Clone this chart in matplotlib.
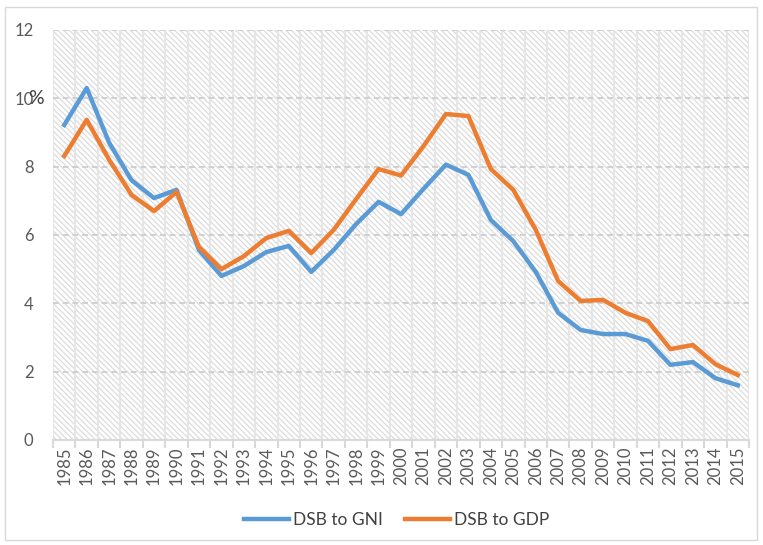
import numpy as np
import matplotlib.pyplot as plt
from matplotlib.patches import Rectangle

plt.rcParams['font.family'] = ['Lato', 'DejaVu Sans']
plt.rcParams['hatch.color'] = '#dcdcdc'
plt.rcParams['hatch.linewidth'] = 0.9

# data
years = [str(y) for y in range(1985, 2016)]
dsb_gni = [9.22, 10.3, 8.7, 7.6, 7.08, 7.32, 5.56, 4.8, 5.09, 5.5,
           5.68, 4.92, 5.56, 6.32, 6.97, 6.61, 7.35, 8.06, 7.76, 6.44,
           5.82, 4.92, 3.72, 3.22, 3.1, 3.1, 2.9, 2.2, 2.28, 1.81, 1.6]
dsb_gdp = [8.31, 9.37, 8.2, 7.17, 6.7, 7.26, 5.65, 5.0, 5.38, 5.91,
           6.12, 5.47, 6.15, 7.05, 7.93, 7.74, 8.6, 9.54, 9.48, 7.93,
           7.32, 6.15, 4.65, 4.07, 4.1, 3.72, 3.48, 2.66, 2.78, 2.22, 1.9]
yticks = [0, 2, 4, 6, 8, 10, 12]

fig = plt.figure(figsize=(7.63, 5.45), dpi=100)
ax = fig.add_axes([0.0695, 0.1927, 0.9122, 0.7523])

# hatched background
ax.patch.set_facecolor('white')
ax.patch.set_hatch('\\\\\\\\\\\\')
ax.patch.set_edgecolor('#dcdcdc')
ax.patch.set_linewidth(0)

x = np.arange(len(years))
ax.plot(x, dsb_gni, color='#5B9BD5', lw=3.2, label='DSB to GNI', zorder=3)
ax.plot(x, dsb_gdp, color='#ED7D31', lw=3.2, label='DSB to GDP', zorder=3)

ax.set_xlim(-0.5, len(years) - 0.5)
ax.set_ylim(0, 12)
ax.set_yticks(yticks)
ax.set_yticklabels([str(v) for v in yticks], fontsize=12, color='#595959')
ax.set_xticks(x)
ax.set_xticklabels(years, rotation=90, fontsize=12, color='#595959')
ax.set_xticks(np.arange(-0.5, len(years)), minor=True)

ax.tick_params(axis='y', length=0, pad=14)
ax.tick_params(axis='x', which='major', length=0, pad=5)
ax.tick_params(axis='x', which='minor', length=6, color='#d9d9d9', width=1.5)

# grid
for yv in yticks[1:]:
    ax.axhline(yv, color='#d0d0d0', lw=1.4, ls=(0, (3, 2)), zorder=1)
ax.grid(axis='x', which='minor', color='#e6e6e6', lw=1.5, zorder=1)
ax.set_axisbelow(True)

for s in ['top', 'right', 'left']:
    ax.spines[s].set_visible(False)
ax.spines['bottom'].set_color('#d9d9d9')
ax.spines['bottom'].set_linewidth(1.5)

# "%" overlapping the 10 label
fig.text(36 / 763, 1 - 98 / 545, '%', fontsize=14, color='#404040',
         ha='center', va='center')

fig.legend(loc='center', bbox_to_anchor=(0.52, 1 - 520 / 545), ncol=2,
           frameon=False, fontsize=12.5, handlelength=2.6,
           columnspacing=1.3, handletextpad=0.2, labelcolor='#404040')

# chart border
fig.patches.append(Rectangle((5 / 763, 5 / 545), 752 / 763, 533 / 545,
                             transform=fig.transFigure, fill=False,
                             edgecolor='#d9d9d9', lw=1))

fig.savefig('out.png', dpi=100)
